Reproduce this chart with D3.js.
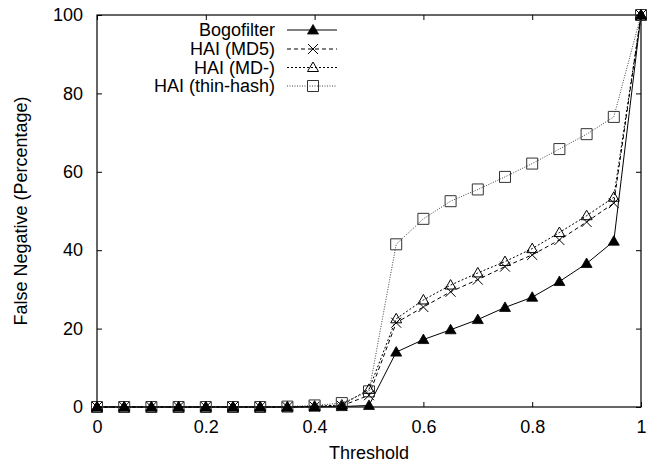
<!DOCTYPE html>
<html>
<head>
<meta charset="utf-8">
<script src="https://cdn.jsdelivr.net/npm/d3@7"></script>
<style>
    body { margin: 0; background: #fff; }
    svg { display: block; }
    text { font-family: "Liberation Sans", Arial, Helvetica, sans-serif; font-size: 18px; fill: #000; }
</style>
</head>
<body>
<svg width="655" height="465"></svg>
<script>
var thresholds = [0, 0.05, 0.1, 0.15, 0.2, 0.25, 0.3, 0.35, 0.4, 0.45, 0.5, 0.55, 0.6, 0.65, 0.7, 0.75, 0.8, 0.85, 0.9, 0.95, 1];
var bogofilter = [0, 0, 0, 0, 0, 0, 0, 0, 0, 0.1, 0.4, 14, 17.2, 19.7, 22.3, 25.4, 28, 32, 36.6, 42.3, 100];
var haiMd5 = [0, 0, 0, 0, 0, 0, 0, 0, 0.1, 0.3, 3, 21.5, 25.5, 29.4, 32.5, 35.8, 38.8, 42.6, 47.2, 52, 100];
var haiMdMinus = [0, 0, 0, 0, 0, 0, 0, 0, 0.2, 0.5, 4.5, 22.5, 27.3, 31.1, 34.2, 37.1, 40.4, 44.5, 48.8, 53.5, 100];
var haiThinHash = [0, 0, 0, 0, 0, 0, 0, 0.1, 0.4, 1, 4, 41.5, 48, 52.5, 55.5, 58.7, 62.1, 65.8, 69.6, 74, 100];

var seriesNames = ["Bogofilter", "HAI (MD5)", "HAI (MD-)", "HAI (thin-hash)"];
var xTicks = [0, 0.2, 0.4, 0.6, 0.8, 1];
var yTicks = [0, 20, 40, 60, 80, 100];

var plotLeft = 97, plotRight = 641, plotTop = 15, plotBottom = 407;

var xScale = d3.scaleLinear([0, 1], [plotLeft, plotRight]);
var yScale = d3.scaleLinear([0, 100], [plotBottom, plotTop]);

// line style + marker for each series
var styles = [
    { values: bogofilter, dash: null, stroke: "#000", marker: "filledTriangle" },
    { values: haiMd5, dash: "4,3", stroke: "#000", marker: "cross" },
    { values: haiMdMinus, dash: "2,2", stroke: "#000", marker: "openTriangle" },
    { values: haiThinHash, dash: "1,1.5", stroke: "#444", marker: "openSquare" }
];

var svg = d3.select("svg");

// frame
svg.append("rect")
    .attr("x", plotLeft).attr("y", plotTop)
    .attr("width", plotRight - plotLeft).attr("height", plotBottom - plotTop)
    .attr("fill", "none").attr("stroke", "#000").attr("stroke-width", 1.2);

// axes with inward ticks, mirrored on the opposite side
svg.append("g")
    .attr("transform", "translate(0," + plotBottom + ")")
    .call(d3.axisBottom(xScale).tickValues(xTicks).tickFormat(d3.format("~g")).tickSizeInner(-5).tickSizeOuter(0).tickPadding(13))
    .call(cleanAxis);
svg.append("g")
    .attr("transform", "translate(0," + plotTop + ")")
    .call(d3.axisTop(xScale).tickValues(xTicks).tickFormat("").tickSizeInner(-5).tickSizeOuter(0))
    .call(cleanAxis);
svg.append("g")
    .attr("transform", "translate(" + plotLeft + ",0)")
    .call(d3.axisLeft(yScale).tickValues(yTicks).tickSizeInner(-5).tickSizeOuter(0).tickPadding(14))
    .call(cleanAxis);
svg.append("g")
    .attr("transform", "translate(" + plotRight + ",0)")
    .call(d3.axisRight(yScale).tickValues(yTicks).tickFormat("").tickSizeInner(-5).tickSizeOuter(0))
    .call(cleanAxis);

function cleanAxis(g) {
    g.select(".domain").remove();
    g.selectAll("line").attr("stroke", "#000");
    g.selectAll("text").attr("font-size", null).attr("font-family", null);
}

// axis titles
svg.append("text")
    .attr("x", (plotLeft + plotRight) / 2).attr("y", 459)
    .attr("text-anchor", "middle")
    .text("Threshold");
svg.append("text")
    .attr("transform", "translate(27," + ((plotTop + plotBottom) / 2) + ") rotate(-90)")
    .attr("text-anchor", "middle")
    .text("False Negative (Percentage)");

var line = d3.line()
    .x(function(d, i) { return xScale(thresholds[i]); })
    .y(function(d) { return yScale(d); });

// draw lines first, back to front
styles.slice().reverse().forEach(function(s) {
    svg.append("path")
        .datum(s.values)
        .attr("d", line)
        .attr("fill", "none")
        .attr("stroke", s.stroke)
        .attr("stroke-width", 1)
        .attr("stroke-dasharray", s.dash);
});

styles.slice().reverse().forEach(function(s) {
    svg.append("g")
        .selectAll("path")
        .data(s.values)
        .enter()
            .append("path")
            .attr("transform", function(d, i) {
                return "translate(" + xScale(thresholds[i]) + "," + yScale(d) + ")";
            })
            .call(drawMarker, s.marker);
});

function drawMarker(sel, kind) {
    if (kind == "filledTriangle") {
        sel.attr("d", "M0,-5.5L5.5,4L-5.5,4Z").attr("fill", "#000").attr("stroke", "#000").attr("stroke-width", 0.8);
    } else if (kind == "openTriangle") {
        sel.attr("d", "M0,-5.5L5.5,4L-5.5,4Z").attr("fill", "none").attr("stroke", "#000").attr("stroke-width", 1);
    } else if (kind == "cross") {
        sel.attr("d", "M-5,-5L5,5M-5,5L5,-5").attr("fill", "none").attr("stroke", "#000").attr("stroke-width", 1);
    } else {
        sel.attr("d", "M-5.5,-5.5H5.5V5.5H-5.5Z").attr("fill", "none").attr("stroke", "#333").attr("stroke-width", 1);
    }
}

// legend
var legendRows = [30, 49, 67.5, 86];
var legend = svg.append("g");
styles.forEach(function(s, i) {
    var y = legendRows[i];
    legend.append("text")
        .attr("x", 275).attr("y", y)
        .attr("dy", "0.36em")
        .attr("text-anchor", "end")
        .text(seriesNames[i]);
    legend.append("line")
        .attr("x1", 287).attr("x2", 337)
        .attr("y1", y).attr("y2", y)
        .attr("stroke", s.stroke)
        .attr("stroke-width", 1)
        .attr("stroke-dasharray", s.dash);
    legend.append("path")
        .attr("transform", "translate(313," + y + ")")
        .call(drawMarker, s.marker);
});
</script>
</body>
</html>
